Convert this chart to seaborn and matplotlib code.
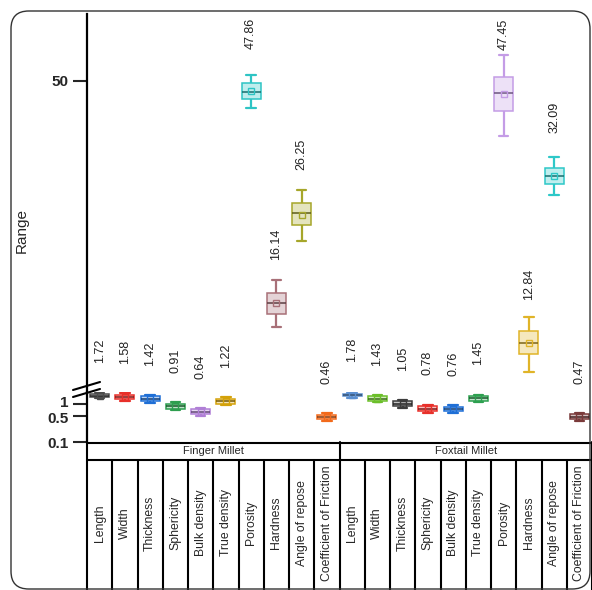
import numpy as np
import pandas as pd
import matplotlib
matplotlib.use("Agg")
import matplotlib.pyplot as plt
import matplotlib.transforms as mtransforms
import seaborn as sns
from matplotlib.patches import FancyBboxPatch
from matplotlib.lines import Line2D
from matplotlib.colors import to_rgba, to_rgb

sns.set_style("white")
plt.rcParams["font.family"] = ["Liberation Sans", "DejaVu Sans"]

groups = ["Finger Millet", "Foxtail Millet"]
properties = ["Length", "Width", "Thickness", "Sphericity", "Bulk density", "True density",
              "Porosity", "Hardness", "Angle of repose", "Coefficient of Friction"]

# min, q1, median, q3, max
finger_values = [
    [1.46, 1.58, 1.72, 1.86, 1.98],
    [1.24, 1.36, 1.58, 1.84, 2.01],
    [1.12, 1.22, 1.42, 1.65, 1.81],
    [0.72, 0.78, 0.91, 1.06, 1.16],
    [0.50, 0.55, 0.64, 0.74, 0.81],
    [0.96, 1.05, 1.22, 1.42, 1.55],
    [43.4, 45.5, 47.2, 49.5, 51.6],
    [13.7, 14.7, 15.55, 16.4, 17.5],
    [21.5, 23.4, 24.96, 26.3, 28.1],
    [0.36, 0.40, 0.46, 0.535, 0.585],
]
foxtail_values = [
    [1.51, 1.64, 1.78, 1.92, 2.05],
    [1.13, 1.23, 1.43, 1.66, 1.82],
    [0.83, 0.90, 1.05, 1.22, 1.34],
    [0.61, 0.67, 0.78, 0.91, 0.99],
    [0.60, 0.65, 0.76, 0.88, 0.97],
    [1.14, 1.25, 1.45, 1.69, 1.84],
    [37.4, 42.7, 46.9, 51.1, 57.3],
    [10.8, 11.9, 12.6, 13.4, 14.46],
    [27.4, 29.1, 30.3, 31.6, 33.5],
    [0.37, 0.405, 0.47, 0.546, 0.597],
]
finger_means = ["1.72", "1.58", "1.42", "0.91", "0.64", "1.22", "47.86", "16.14", "26.25", "0.46"]
foxtail_means = ["1.78", "1.43", "1.05", "0.78", "0.76", "1.45", "47.45", "12.84", "32.09", "0.47"]

finger_colors = ["#4d4d4d", "#e8302a", "#1f6fd6", "#2e9e4f", "#b07fd6", "#d4a20a",
                 "#2ec4c4", "#a87078", "#a6a62a", "#f26a1b"]
foxtail_colors = ["#5b8fd0", "#6cbf2a", "#3c3c3c", "#e8302a", "#1f6fd6", "#2ea050",
                  "#c49ce6", "#e0b428", "#2ec8c8", "#7a3a3a"]

rows = []
for g, vals in zip(groups, [finger_values, foxtail_values]):
    for p, v in zip(properties, vals):
        for x in v:
            rows.append((g + "|" + p, x))
df = pd.DataFrame(rows, columns=["key", "value"])
order = [g + "|" + p for g in groups for p in properties]
colors = finger_colors + foxtail_colors
labels = finger_means + foxtail_means
medians = [v[2] for v in finger_values + foxtail_values]

W, H = 592, 590
fig = plt.figure(figsize=(W / 100, H / 100), dpi=100)
left = 87 / W
ax_top = fig.add_axes([left, (H - 392) / H, 1 - left, (392 - 14) / H])
ax_bot = fig.add_axes([left, (H - 442) / H, 1 - left, 50 / H])
ax_tab = fig.add_axes([left, 0, 1 - left, (H - 442) / H])


def darker(c, f=0.55):
    r, g, b = to_rgb(c)
    return (r * f, g * f, b * f)


for ax in (ax_top, ax_bot):
    ax.set_yscale("log")
    sns.boxplot(data=df, x="key", y="value", hue="key", order=order, hue_order=order,
                palette=colors, saturation=1, width=0.75, whis=(0, 100), linewidth=1.1,
                showmeans=True,
                meanprops=dict(marker="s", markersize=5, markerfacecolor="none"),
                legend=False, ax=ax)
    for i, c in enumerate(ax.containers):
        col = colors[i]
        for b in c.boxes:
            b.set_facecolor(to_rgba(col, 0.3))
            b.set_edgecolor(col)
        for l in list(c.whiskers) + list(c.caps):
            l.set_color(col)
            l.set_linewidth(1.6)
        for l in c.medians:
            l.set_color(darker(col))
        for l in c.means:
            l.set_markeredgecolor(col)
            l.set_markerfacecolor("none")
    ax.set_xlim(-0.5, 19.5)
    ax.set_xticks([])
    ax.set_xlabel("")
    ax.set_ylabel("")
    for s in ["top", "right", "bottom"]:
        ax.spines[s].set_visible(False)
    ax.spines["left"].set_linewidth(1.6)
    ax.spines["left"].set_color("black")
    ax.minorticks_off()
    ax.tick_params(axis="y", which="both", direction="out", length=10, width=1.5,
                   left=True, labelsize=11)
    ax.set_facecolor("none")

ax_top.set_ylim(9.73, 71.1)
ax_top.set_yticks([50])
ax_top.set_yticklabels(["50"], fontweight="bold")
ax_bot.set_ylim(0.1, 2.15)
ax_bot.set_yticks([0.1, 0.5, 1])
ax_bot.set_yticklabels(["0.1", "0.5", "1"], fontweight="bold")
ax_bot.minorticks_off()

# nudge the crowded "0.5" / "1" labels apart a little
shifts = {"0.5": -1.2, "1": 1.8}
for t in ax_bot.get_yticklabels():
    dy = shifts.get(t.get_text(), 0)
    if dy:
        t.set_transform(t.get_transform() +
                        mtransforms.ScaledTranslation(0, dy / 72, fig.dpi_scale_trans))

# value labels above boxes
for i, (lab, med) in enumerate(zip(labels, medians)):
    ax = ax_top if med > 5 else ax_bot
    off = 31 if med > 5 else 23.8
    ax.annotate(lab, xy=(i, med), xytext=(0, off), textcoords="offset points",
                rotation=90, ha="center", va="bottom", fontsize=9, color="#222222",
                annotation_clip=False)

fig.text(22 / W, 1 - 230 / H, "Range", rotation=90, ha="center", va="center", fontsize=11)

# axis break marks
for y0, y1 in [(390, 382), (397, 389)]:
    fig.add_artist(Line2D([73 / W, 100 / W], [1 - y0 / H, 1 - y1 / H], color="black", lw=1.5))

# category table below the plot
ax_tab.set_xlim(-0.5, 19.5)
ax_tab.set_ylim(0, 148)
ax_tab.axis("off")
lw = 1.5
ax_tab.plot([-0.5, 19.5], [147.5, 147.5], color="black", lw=lw, clip_on=False)
ax_tab.plot([-0.5, 19.5], [130, 130], color="black", lw=lw, clip_on=False)
for k in range(21):
    x = k - 0.5
    top = 148 if k in (0, 10, 20) else 130
    ax_tab.plot([x, x], [0, top], color="black", lw=lw, clip_on=False)
for j, g in enumerate(groups):
    ax_tab.text(4.5 + 10 * j, 139, g, ha="center", va="center", fontsize=8)
for i, key in enumerate(order):
    ax_tab.text(i, 67, key.split("|")[1], rotation=90, ha="center", va="center", fontsize=8.8)

# rounded frame
fig.add_artist(FancyBboxPatch((11 / W, 1 - 589 / H), (590 - 11) / W, (589 - 11) / H,
                              boxstyle="round,pad=0,rounding_size=0.03",
                              transform=fig.transFigure, fill=False, ec="#333333", lw=1))

fig.savefig("out.png", dpi=100)
